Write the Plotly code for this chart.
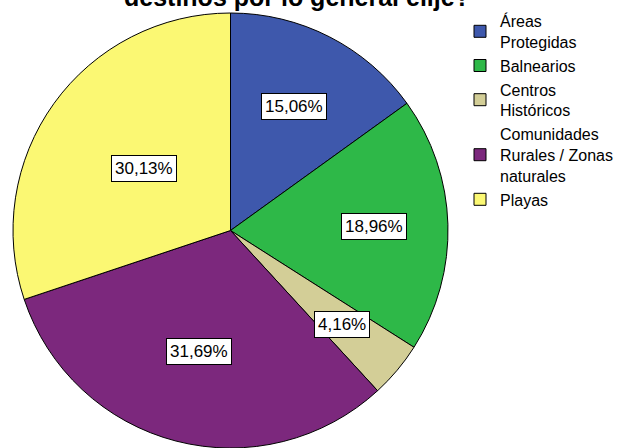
import math
import plotly.graph_objects as go

# Destination types and their share of respondents (%)
categories = [
    "Áreas<br>Protegidas",
    "Balnearios",
    "Centros<br>Históricos",
    "Comunidades<br>Rurales / Zonas<br>naturales",
    "Playas",
]
percentages = [15.06, 18.96, 4.16, 31.69, 30.13]
colors = ["#3E58AC", "#2EB848", "#D3CE97", "#7C287D", "#FBF873"]

# how far from the centre (fraction of radius) each value label sits
label_radius = [0.64, 0.66, 0.67, 0.575, 0.49]

W, H = 626, 448
M_L, M_T, M_B = 13, 13, 0
SIDE = H - M_T - M_B          # square plotting area for the pie
M_R = W - M_L - SIDE

fig = go.Figure(
    go.Pie(
        labels=categories,
        values=percentages,
        sort=False,
        direction="clockwise",
        rotation=0,
        textinfo="none",
        hoverinfo="label+percent",
        marker=dict(colors=colors, line=dict(color="#000000", width=1)),
        domain=dict(x=[0, 1], y=[0, 1]),
    )
)

# value labels in boxes, placed along each slice's mid-angle
total = sum(percentages)
start = 0.0
annotations = []
for val, rf in zip(percentages, label_radius):
    mid = (start + val / 2) / total * 2 * math.pi
    start += val
    x = 0.5 + 0.5 * rf * math.sin(mid)
    y = 0.5 + 0.5 * rf * math.cos(mid)
    annotations.append(
        dict(
            x=x, y=y, xref="paper", yref="paper",
            xanchor="center", yanchor="middle",
            text=f"{val:.2f}%".replace(".", ","),
            showarrow=False,
            font=dict(family="Liberation Sans, Arial", size=17, color="#000000"),
            bgcolor="#FFFFFF",
            bordercolor="#000000",
            borderwidth=1,
            borderpad=3,
        )
    )

# chart title (runs past the top edge of the page)
annotations.append(
    dict(
        x=(297 - M_L) / SIDE, y=(H + 2.5) / SIDE, xref="paper", yref="paper",
        text="<b>destinos por lo general elije?</b>",
        showarrow=False, xanchor="center", yanchor="middle",
        font=dict(family="Liberation Sans, Arial", size=25, color="#000000"),
    )
)

fig.update_layout(
    width=W,
    height=H,
    margin=dict(l=M_L, r=M_R, t=M_T, b=M_B, autoexpand=False),
    paper_bgcolor="#FFFFFF",
    plot_bgcolor="#FFFFFF",
    annotations=annotations,
    showlegend=True,
    legend=dict(
        x=(460 - M_L) / SIDE,
        y=(H - 4) / SIDE,
        xanchor="left",
        yanchor="top",
        font=dict(family="Liberation Sans, Arial", size=16, color="#000000"),
        bgcolor="rgba(0,0,0,0)",
        tracegroupgap=0,
    ),
)

fig.write_html("out.html")
